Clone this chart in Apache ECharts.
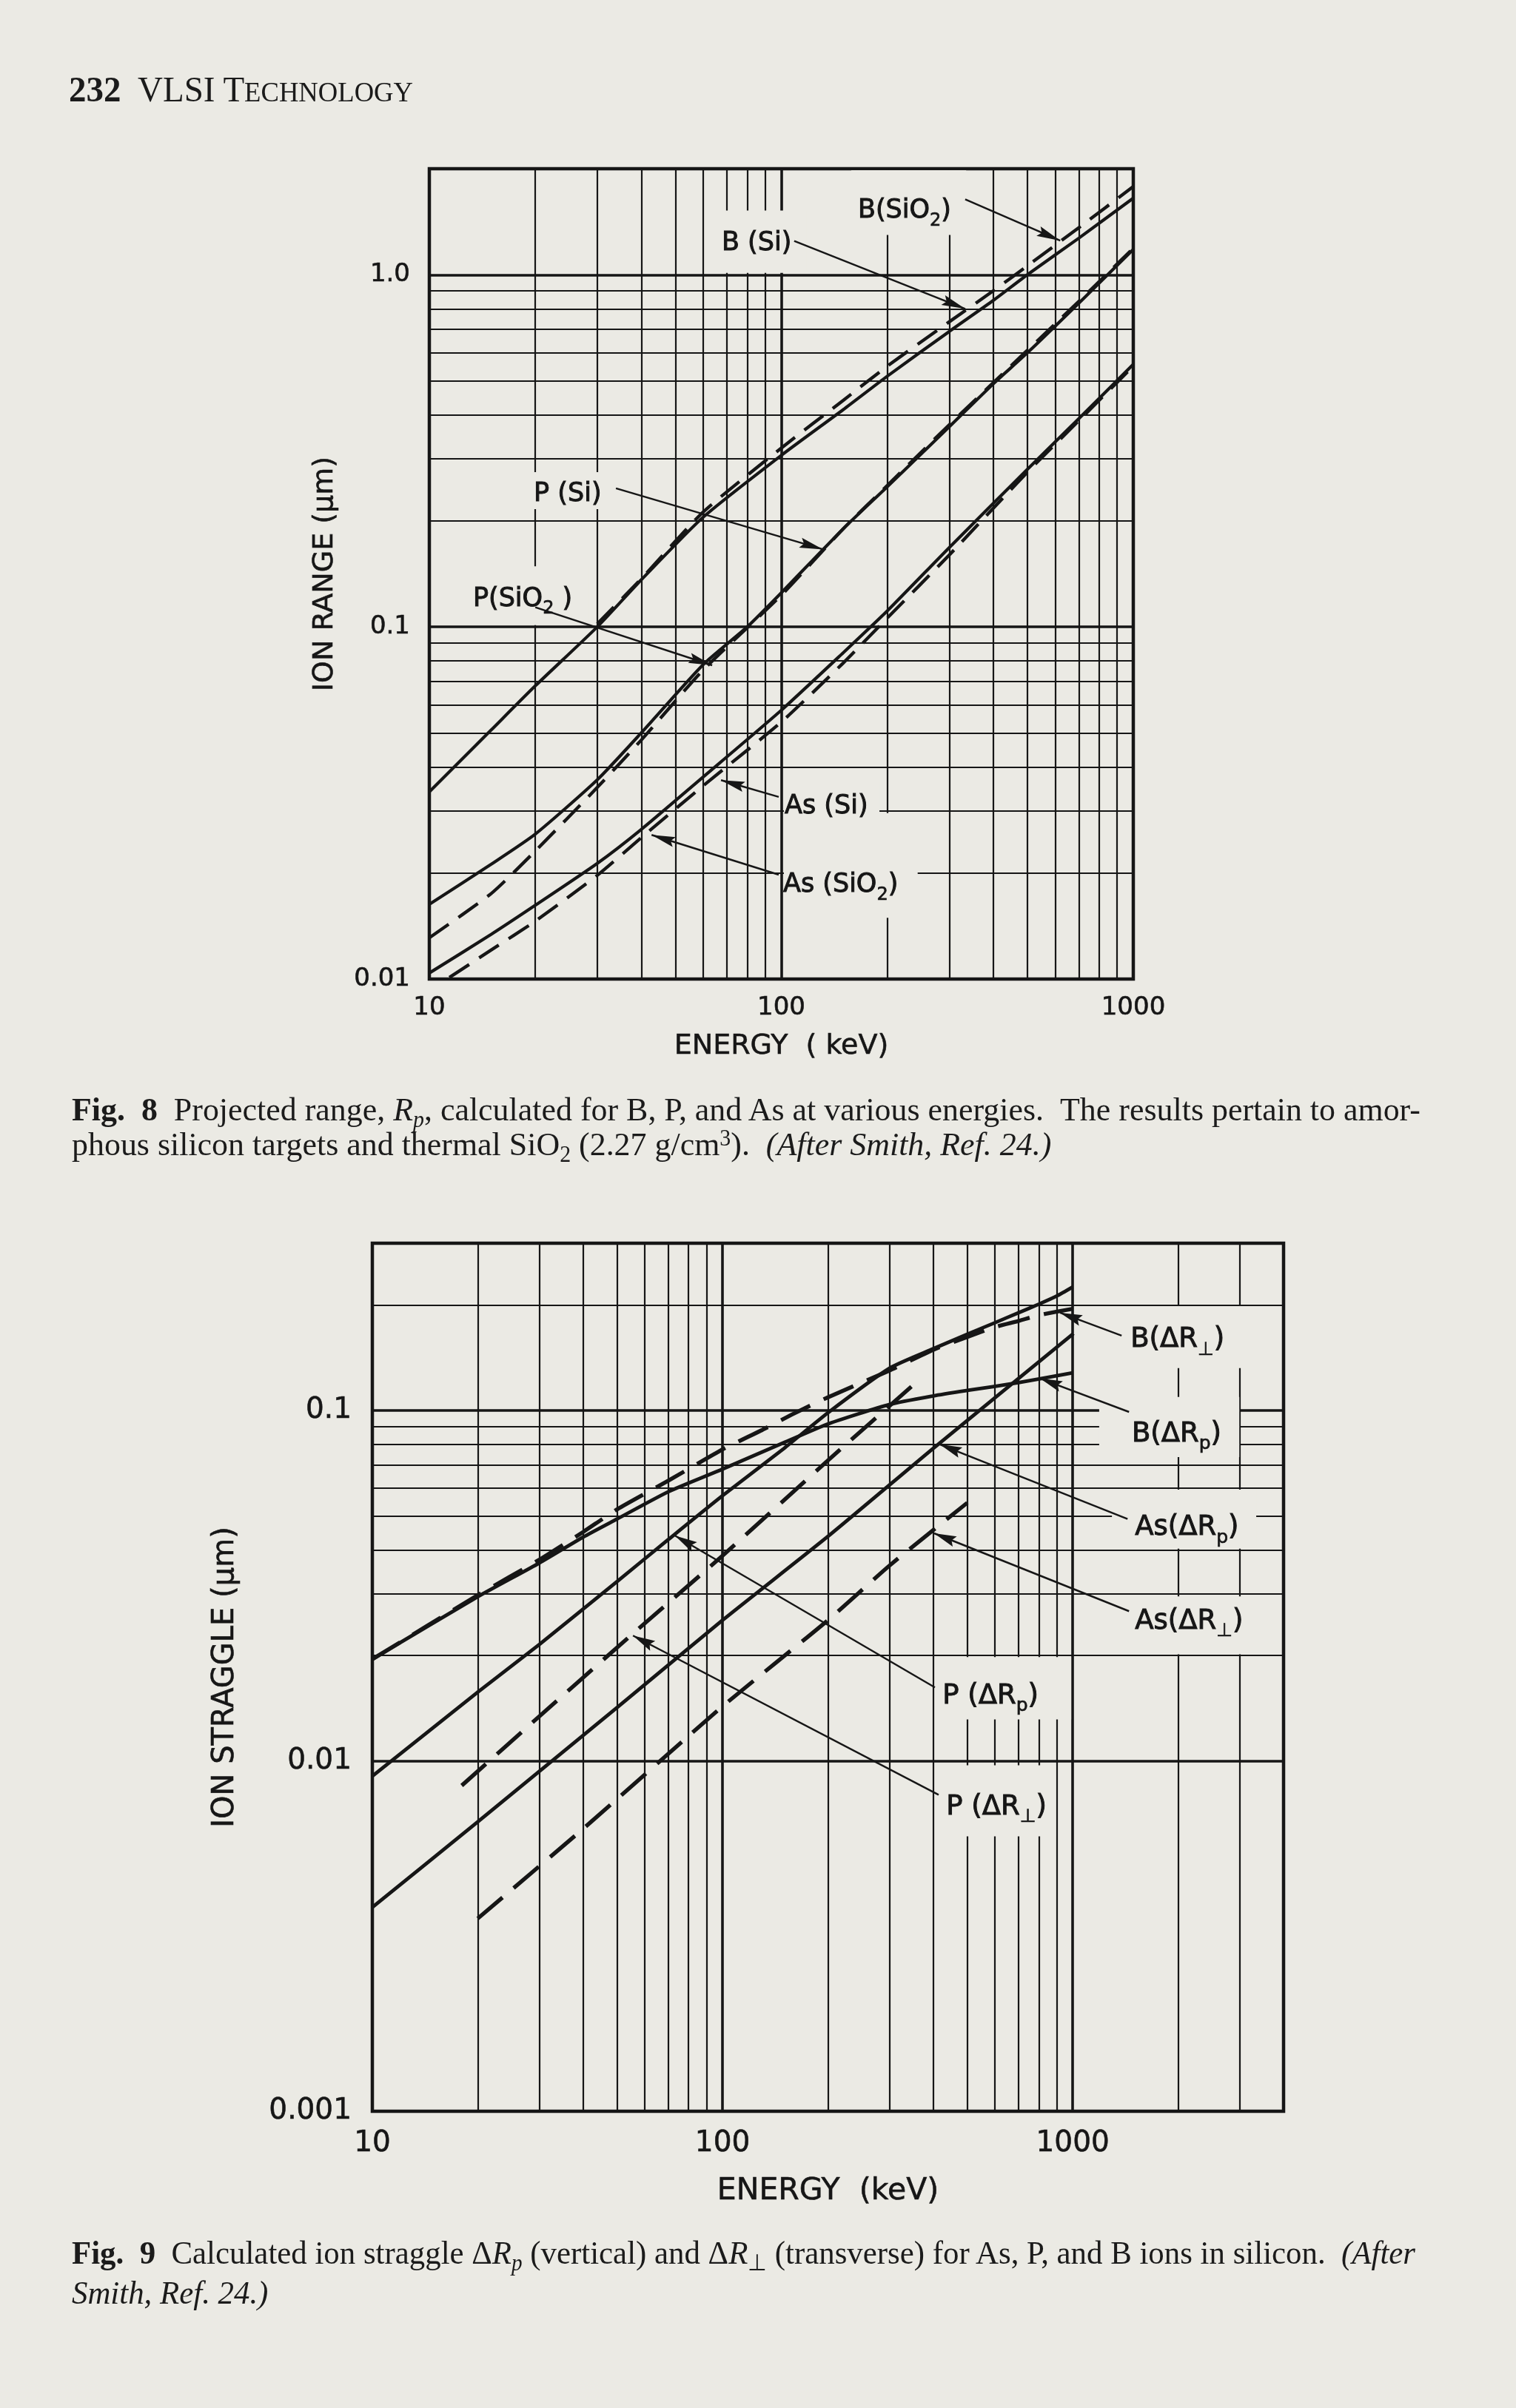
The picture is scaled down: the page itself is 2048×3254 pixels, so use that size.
<!DOCTYPE html>
<html>
<head>
<meta charset="utf-8">
<script src="https://cdn.jsdelivr.net/npm/echarts@6.0.0/dist/echarts.min.js"></script>
<style>
html, body { margin: 0; padding: 0; background: #ebeae4; }
#page { position: relative; width: 2048px; height: 3254px; background: #ebeae4; overflow: hidden; }
#chart { position: absolute; left: 0; top: 0; width: 2048px; height: 3254px; }
.txt { position: absolute; white-space: nowrap; font-family: 'Liberation Serif', 'Times New Roman', serif; color: #1b1b1b; transform-origin: 0 0; }
.cap { font-size: 45px; line-height: 45px; }
.sb { position: relative; top: 0.28em; font-size: 0.68em; }
.sp { position: relative; top: -0.42em; font-size: 0.68em; }
</style>
</head>
<body>
<div id="page">
  <div id="chart"></div>
  <div class="txt" id="hdr" data-w="465" style="left:93px; top:97px; font-size:48px; line-height:48px;"><b>232</b>&nbsp; VLSI T<span style="font-size:0.78em">ECHNOLOGY</span></div>
  <div class="txt cap" id="c8a" data-w="1822" style="left:97px; top:1477px;"><b>Fig.&nbsp; 8</b>&nbsp; Projected range, <i>R</i><span class="sb"><i>p</i></span>, calculated for B, P, and As at various energies. &nbsp;The results pertain to amor-</div>
  <div class="txt cap" id="c8b" data-ref="c8a" style="left:97px; top:1524px;">phous silicon targets and thermal SiO<span class="sb">2</span> (2.27 g/cm<span class="sp">3</span>). &nbsp;<i>(After Smith, Ref. 24.)</i></div>
  <div class="txt cap" id="c9a" data-w="1815" style="left:97px; top:3022px;"><b>Fig.&nbsp; 9</b>&nbsp; Calculated ion straggle &Delta;<i>R</i><span class="sb"><i>p</i></span> (vertical) and &Delta;<i>R</i><span class="sb">&perp;</span> (transverse) for As, P, and B ions in silicon. &nbsp;<i>(After</i></div>
  <div class="txt cap" id="c9b" data-ref="c9a" style="left:97px; top:3076px;"><i>Smith, Ref. 24.)</i></div>
</div>
<script>
// ---------------- Fig. 8 data: projected range (um) vs energy (keV) ----------------
const bSiE    = [10, 15, 20, 30, 40, 60, 100, 150, 200, 300, 400, 500, 700, 1000];
const bSiR    = [0.034, 0.051, 0.068, 0.100, 0.136, 0.205, 0.307, 0.414, 0.515, 0.69, 0.845, 1.0, 1.27, 1.65];
const bSiO2E  = [30, 40, 60, 100, 150, 200, 300, 400, 500, 700, 1000];
const bSiO2R  = [0.102, 0.137, 0.212, 0.322, 0.44, 0.55, 0.735, 0.9, 1.06, 1.36, 1.78];
const pSiE    = [10, 15, 20, 30, 40, 60, 80, 100, 150, 200, 300, 400, 500, 700, 1000];
const pSiR    = [0.0163, 0.0212, 0.0258, 0.0368, 0.050, 0.0782, 0.100, 0.125, 0.19, 0.25, 0.37, 0.49, 0.60, 0.83, 1.18];
const pSiO2E  = [10, 15, 20, 30, 40, 60, 100, 150, 200, 300, 500, 700, 1000];
const pSiO2R  = [0.0131, 0.0175, 0.0231, 0.035, 0.0477, 0.0755, 0.123, 0.19, 0.252, 0.375, 0.61, 0.84, 1.19];
const asSiE   = [10, 15, 20, 30, 40, 60, 100, 150, 200, 300, 500, 700, 1000];
const asSiR   = [0.0104, 0.0134, 0.0162, 0.0213, 0.0266, 0.0375, 0.058, 0.0845, 0.111, 0.168, 0.28, 0.39, 0.557];
const asSiO2E = [11.4, 15, 20, 30, 40, 60, 100, 150, 200, 300, 500, 700, 1000];
const asSiO2R = [0.0101, 0.0121, 0.0146, 0.0197, 0.0252, 0.0354, 0.0537, 0.079, 0.106, 0.16, 0.275, 0.385, 0.55];

// ---------------- Fig. 9 data: ion straggle (um) vs energy (keV) ----------------
const bRpE    = [10, 20, 30, 40, 50, 70, 100, 150, 200, 300, 400, 500, 700, 1000];
const bRpS    = [0.0195, 0.0294, 0.0367, 0.0435, 0.049, 0.0586, 0.068, 0.081, 0.0915, 0.104, 0.11, 0.114, 0.12, 0.128];
const bRtE    = [10, 20, 30, 40, 50, 70, 100, 130, 160, 200, 300, 400, 500, 600, 700, 800, 1000];
const bRtS    = [0.0195, 0.0297, 0.0375, 0.045, 0.0522, 0.063, 0.0774, 0.088, 0.098, 0.109, 0.13, 0.149, 0.162, 0.173, 0.18, 0.187, 0.195];
const pRpE    = [10, 20, 30, 50, 70, 100, 150, 200, 300, 400, 500, 600, 700, 800, 900, 1000];
const pRpS    = [0.00904, 0.0157, 0.0215, 0.0325, 0.0428, 0.0571, 0.078, 0.0985, 0.132, 0.15, 0.165, 0.178, 0.19, 0.201, 0.212, 0.225];
const pRtE    = [18, 30, 52, 100, 200, 360];
const pRtS    = [0.0085, 0.0134, 0.0218, 0.0385, 0.072, 0.121];
const asRpE   = [10, 20, 50, 100, 200, 400, 1000];
const asRpS   = [0.00382, 0.0067, 0.0142, 0.0252, 0.0437, 0.078, 0.165];
const asRtE   = [20, 40, 100, 200, 300, 500];
const asRtS   = [0.00355, 0.0064, 0.0143, 0.0252, 0.0361, 0.0545];

// ---------------- axis ticks ----------------
const fig8XTicks = [10, 100, 1000];        const fig8XTickLabels = ['10', '100', '1000'];
const fig8YTicks = [0.01, 0.1, 1];         const fig8YTickLabels = ['0.01', '0.1', '1.0'];
const fig9XTicks = [10, 100, 1000];        const fig9XTickLabels = ['10', '100', '1000'];
const fig9YTicks = [0.001, 0.01, 0.1];     const fig9YTickLabels = ['0.001', '0.01', '0.1'];
const gridMult = [2, 3, 4, 5, 6, 7, 8, 9];
const fig8XDecades = [10, 100];   const fig8XMajor = [100];
const fig8YDecades = [0.01, 0.1]; const fig8YMajor = [0.1, 1];
const fig9XDecades = [10, 100];   const fig9XMajor = [100, 1000]; const fig9XExtra = [2000, 3000];
const fig9YDecades = [0.001, 0.01]; const fig9YMajor = [0.01, 0.1]; const fig9YExtra = [0.2];

// ---------------- annotations (data coordinates) ----------------
const fig8Labels = [
  { at: [165, 1.56],    text: '{n|B(SiO}{s|2}{n|)}' },
  { at: [67.7, 1.266],  text: '{n|B (Si)}' },
  { at: [19.8, 0.245],  text: '{n|P (Si)}' },
  { at: [13.3, 0.1235], text: '{n|P(SiO}{s|2}{n| )}' },
  { at: [102.2, 0.0318],text: '{n|As (Si)}' },
  { at: [101.2, 0.019], text: '{n|As (SiO}{s|2}{n|)}' }
];
const fig8Arrows = [
  { from: [333, 1.637],   to: [620, 1.25] },
  { from: [108.8, 1.247], to: [333, 0.80] },
  { from: [33.9, 0.2474], to: [131.5, 0.166] },
  { from: [20, 0.1137],   to: [63.6, 0.0778] },
  { from: [98.3, 0.0329], to: [67.4, 0.0367] },
  { from: [98.3, 0.01978],to: [42.8, 0.02566] }
];
const fig8Masks = [
  [158, 335, 1.297, 1.98],
  [64.5, 118, 1.012, 1.522],
  [18.3, 33.6, 0.216, 0.275],
  [12.7, 28.3, 0.1012, 0.1486],
  [101.7, 190, 0.0296, 0.0362],
  [101.7, 244, 0.01493, 0.0296]
];
const fig9Labels = [
  { at: [1462, 0.1635], text: '{n|B(ΔR}{s|⊥}{n|)}' },
  { at: [1474, 0.0881], text: '{n|B(ΔR}{s|p}{n|)}' },
  { at: [1505, 0.0476], text: '{n|As(ΔR}{s|p}{n|)}' },
  { at: [1505, 0.0257], text: '{n|As(ΔR}{s|⊥}{n|)}' },
  { at: [424.6, 0.01573], text: '{n|P (ΔR}{s|p}{n|)}' },
  { at: [435, 0.00758], text: '{n|P (ΔR}{s|⊥}{n|)}' }
];
const fig9Arrows = [
  { from: [1379, 0.1635], to: [920, 0.19] },
  { from: [1448, 0.099],  to: [807, 0.1233] },
  { from: [1434, 0.049],  to: [417, 0.080] },
  { from: [1448, 0.02673],to: [402, 0.0446] },
  { from: [404, 0.0162],  to: [73.2, 0.0439] },
  { from: [414, 0.0080],  to: [55.5, 0.02277] }
];
const fig9Masks = [
  [1014, 3908, 0.132, 0.1985],
  [1190, 2990, 0.0736, 0.1092],
  [1294, 3342, 0.0403, 0.0594],
  [1014, 3908, 0.02015, 0.02945],
  [404, 990, 0.01313, 0.01977],
  [404, 894, 0.00609, 0.00971]
];

// ---------------- styling ----------------
const BG = '#ebeae4';
const INK = '#161616';
const FONT = "'DejaVu Sans', sans-serif";
const ARROW = 'path://M5,0 L10,32 L5,27 L0,32 Z';

function pairs(xs, ys) { return xs.map((x, i) => [x, ys[i]]); }
function expand(decades, mult) { const out = []; decades.forEach(d => mult.forEach(m => out.push(+(m * d).toPrecision(6)))); return out; }
function tickFmt(ticks, labels) {
  return function (v) {
    const lv = Math.log10(v);
    for (let i = 0; i < ticks.length; i++) if (Math.abs(lv - Math.log10(ticks[i])) < 1e-6) return labels[i];
    return '';
  };
}

function curve(gi, xs, ys, dashed, width, dash) {
  return {
    type: 'line', xAxisIndex: gi, yAxisIndex: gi, data: pairs(xs, ys), symbol: 'none', showSymbol: false,
    smooth: 0.2, silent: true, z: 3, animation: false,
    lineStyle: { color: INK, width: width, type: dashed ? dash : 'solid', cap: 'butt' }
  };
}

function frameSeries(gi, xMinor, xMajor, yMinor, yMajor, masks) {
  const d = [];
  xMinor.forEach(v => d.push({ xAxis: v, lineStyle: { width: 2.2 } }));
  xMajor.forEach(v => d.push({ xAxis: v, lineStyle: { width: 3.6 } }));
  yMinor.forEach(v => d.push({ yAxis: v, lineStyle: { width: 2.2 } }));
  yMajor.forEach(v => d.push({ yAxis: v, lineStyle: { width: 3.6 } }));
  return {
    type: 'line', xAxisIndex: gi, yAxisIndex: gi, data: [], silent: true, z: 1, animation: false,
    markLine: { silent: true, z: 1, animation: false, symbol: ['none', 'none'], label: { show: false },
      emphasis: { disabled: true }, lineStyle: { color: INK, type: 'solid', width: 2.2 }, data: d },
    markArea: { silent: true, z: 2, animation: false, itemStyle: { color: BG, borderWidth: 0 }, label: { show: false },
      emphasis: { disabled: true },
      data: masks.map(m => [{ coord: [m[0], m[2]] }, { coord: [m[1], m[3]] }]) }
  };
}

function annotSeries(gi, arrows, labels, fs, sfs, lh, head) {
  return {
    type: 'line', xAxisIndex: gi, yAxisIndex: gi, data: [], silent: true, z: 4, animation: false,
    markLine: { silent: true, z: 4, animation: false, symbol: ['none', 'none'], label: { show: false },
      emphasis: { disabled: true }, itemStyle: { color: INK },
      lineStyle: { color: INK, width: 2.5, type: 'solid' },
      data: arrows.map(a => [
        { coord: a.from },
        { coord: a.to, symbol: ARROW, symbolSize: head, symbolOffset: [0, head[1] / 2], itemStyle: { color: INK } }
      ]) },
    markPoint: { silent: true, z: 4, animation: false, symbol: 'rect', symbolSize: 1,
      itemStyle: { color: 'rgba(0,0,0,0)' }, emphasis: { disabled: true },
      label: { show: true, position: 'inside', align: 'left', verticalAlign: 'middle', offset: [0, 6],
        rich: {
          n: { fontSize: fs, lineHeight: lh, fontFamily: FONT, color: INK, textBorderColor: INK, textBorderWidth: 1.0 },
          s: { fontSize: sfs, lineHeight: sfs, fontFamily: FONT, color: INK, verticalAlign: 'bottom', textBorderColor: INK, textBorderWidth: 0.7 }
        } },
      data: labels.map(l => ({ coord: l.at, label: { formatter: l.text } })) }
  };
}

function xAxisOpt(gi, min, max, ticks, labels, name, fs, nfs, margin, gap) {
  return {
    type: 'log', logBase: 10, gridIndex: gi, min: min, max: max,
    axisLine: { show: false }, axisTick: { show: false }, splitLine: { show: false }, minorSplitLine: { show: false },
    axisLabel: { formatter: tickFmt(ticks, labels), margin: margin, fontSize: fs, fontFamily: FONT, color: INK,
      showMinLabel: true, showMaxLabel: true, textBorderColor: INK, textBorderWidth: 0.6 },
    name: name, nameLocation: 'middle', nameGap: gap,
    nameTextStyle: { fontSize: nfs, fontFamily: FONT, color: INK, textBorderColor: INK, textBorderWidth: 0.6 }
  };
}
function yAxisOpt(gi, min, max, ticks, labels, name, fs, nfs, margin, gap) {
  return {
    type: 'log', logBase: 10, gridIndex: gi, min: min, max: max,
    axisLine: { show: false }, axisTick: { show: false }, splitLine: { show: false }, minorSplitLine: { show: false },
    axisLabel: { formatter: tickFmt(ticks, labels), margin: margin, fontSize: fs, fontFamily: FONT, color: INK,
      showMinLabel: true, showMaxLabel: true, textBorderColor: INK, textBorderWidth: 0.6 },
    name: name, nameLocation: 'middle', nameGap: gap, nameRotate: 90,
    nameTextStyle: { fontSize: nfs, fontFamily: FONT, color: INK, textBorderColor: INK, textBorderWidth: 0.6 }
  };
}

const D8 = [32, 16];
const D9 = [44, 20];

const option = {
  animation: false,
  backgroundColor: 'transparent',
  textStyle: { fontFamily: FONT },
  grid: [
    { left: 580, top: 228, width: 951, height: 1095, show: true, borderColor: INK, borderWidth: 4.5, backgroundColor: 'transparent' },
    { left: 503, top: 1680, width: 1231, height: 1173, show: true, borderColor: INK, borderWidth: 4.5, backgroundColor: 'transparent' }
  ],
  xAxis: [
    xAxisOpt(0, 10, 1000, fig8XTicks, fig8XTickLabels, 'ENERGY  ( keV)', 34, 38, 22, 72),
    xAxisOpt(1, 10, 4000, fig9XTicks, fig9XTickLabels, 'ENERGY  (keV)', 39, 41, 24, 88)
  ],
  yAxis: [
    yAxisOpt(0, 0.01, 2, fig8YTicks, fig8YTickLabels, 'ION RANGE (μm)', 34, 38, 26, 122),
    yAxisOpt(1, 0.001, 0.3, fig9YTicks, fig9YTickLabels, 'ION STRAGGLE (μm)', 39, 40, 28, 178)
  ],
  series: [
    frameSeries(0, expand(fig8XDecades, gridMult), fig8XMajor, expand(fig8YDecades, gridMult), fig8YMajor, fig8Masks),
    frameSeries(1, expand(fig9XDecades, gridMult).concat(fig9XExtra), fig9XMajor, expand(fig9YDecades, gridMult).concat(fig9YExtra), fig9YMajor, fig9Masks),
    curve(0, bSiE, bSiR, false, 4.2),
    curve(0, bSiO2E, bSiO2R, true, 4.4, D8),
    curve(0, pSiE, pSiR, false, 4.2),
    curve(0, pSiO2E, pSiO2R, true, 4.4, D8),
    curve(0, asSiE, asSiR, false, 4.2),
    curve(0, asSiO2E, asSiO2R, true, 4.4, D8),
    curve(1, bRpE, bRpS, false, 4.8),
    curve(1, bRtE, bRtS, true, 5.4, D9),
    curve(1, pRpE, pRpS, false, 4.8),
    curve(1, pRtE, pRtS, true, 5.4, D9),
    curve(1, asRpE, asRpS, false, 4.8),
    curve(1, asRtE, asRtS, true, 5.4, D9),
    annotSeries(0, fig8Arrows, fig8Labels, 35, 24, 50, [14, 32]),
    annotSeries(1, fig9Arrows, fig9Labels, 37, 25, 52, [15, 30])
  ]
};

const chart = echarts.init(document.getElementById('chart'), null, { renderer: 'canvas', width: 2048, height: 3254 });
chart.setOption(option);

// fit caption / header lines to the printed widths
document.querySelectorAll('[data-w]').forEach(el => {
  const w = el.getBoundingClientRect().width;
  const s = (+el.dataset.w) / w;
  el.dataset.s = s;
  el.style.transform = 'scaleX(' + s + ')';
});
document.querySelectorAll('[data-ref]').forEach(el => {
  const r = document.getElementById(el.dataset.ref);
  el.style.transform = 'scaleX(' + r.dataset.s + ')';
});
</script>
</body>
</html>
